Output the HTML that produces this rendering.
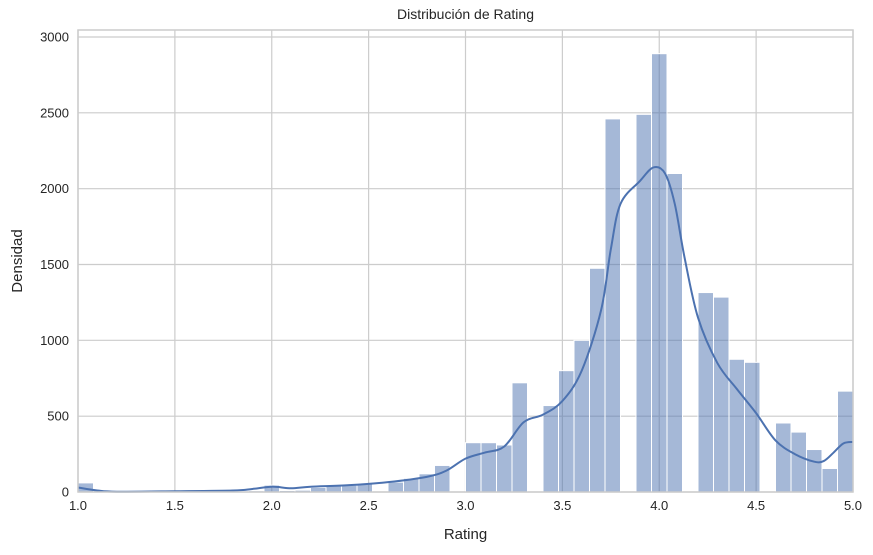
<!DOCTYPE html>
<html><head><meta charset="utf-8"><style>
body{margin:0;background:#fff;}
svg text{font-family:"Liberation Sans",sans-serif;fill:#262626;}
</style></head><body>
<svg id="chart" width="873" height="550"></svg>
<script>
const binStart = 1.0, binWidth = 0.08;
const counts = [60,8,2,2,3,4,5,5,6,6,7,8,45,10,12,30,40,45,55,0,65,90,120,175,0,325,325,310,720,0,570,800,1000,1475,2460,0,2490,2890,2100,0,1315,1285,875,855,0,455,395,280,155,665];
const kdeX = [1.0,1.1,1.2,1.5,1.8,1.9,2.0,2.1,2.2,2.4,2.6,2.8,2.9,3.0,3.1,3.2,3.3,3.4,3.5,3.6,3.7,3.75,3.8,3.9,3.97,4.03,4.08,4.13,4.2,4.3,4.4,4.5,4.6,4.7,4.8,4.85,4.9,4.95,5.0];
const kdeY = [30,10,2,5,10,20,35,25,35,45,65,100,140,220,260,300,460,510,600,800,1200,1600,1900,2050,2140,2100,1900,1550,1150,850,680,520,340,250,200,205,260,320,330];
const xTicks = [1.0,1.5,2.0,2.5,3.0,3.5,4.0,4.5,5.0];
const yTicks = [0,500,1000,1500,2000,2500,3000];
const L=78,R=853,T=30,B=492;
const xs=v=>L+(v-1)/4*(R-L);
const ys=v=>B-v/3000*(B-37);
const svg=document.getElementById('chart');
const NS='http://www.w3.org/2000/svg';
function mk(t,a){const e=document.createElementNS(NS,t);for(const k in a)e.setAttribute(k,a[k]);svg.appendChild(e);return e;}
let e;
e=mk('rect',{x:L,y:T,width:R-L,height:B-T,fill:'#fff'});


xTicks.forEach(t=>{
 e=mk('line',{x1:xs(t),x2:xs(t),y1:T,y2:B,stroke:'#cccccc','stroke-width':1.2});
 
 
 e=mk('text',{x:xs(t),y:B+18,'text-anchor':'middle','font-size':13});
 e.textContent=t.toFixed(1);
 
 
});
yTicks.forEach(t=>{
 e=mk('line',{x1:L,x2:R,y1:ys(t),y2:ys(t),stroke:'#cccccc','stroke-width':1.2});
 
 
 e=mk('text',{x:L-9,y:ys(t)+4.5,'text-anchor':'end','font-size':13});
 e.textContent=t;
 
 
});
counts.forEach((c,i)=>{
 if(c<=0)return;
 const x0=xs(binStart+i*binWidth),x1=xs(binStart+(i+1)*binWidth);
 e=mk('rect',{x:x0,y:ys(c),width:x1-x0,height:B-ys(c),fill:'rgba(76,114,176,0.5)',stroke:'#fff','stroke-width':1});
 
 
});
// smooth KDE path (Catmull-Rom)
const P=kdeX.map((x,i)=>[xs(x),ys(kdeY[i])]);
let d='M'+P[0][0]+','+P[0][1];
for(let i=0;i<P.length-1;i++){
 const p0=P[Math.max(0,i-1)],p1=P[i],p2=P[i+1],p3=P[Math.min(P.length-1,i+2)];
 const c1=[p1[0]+(p2[0]-p0[0])/6,p1[1]+(p2[1]-p0[1])/6];
 const c2=[p2[0]-(p3[0]-p1[0])/6,p2[1]-(p3[1]-p1[1])/6];
 d+=` C${c1[0]},${c1[1]} ${c2[0]},${c2[1]} ${p2[0]},${p2[1]}`;
}
e=mk('path',{d:d,fill:'none',stroke:'#4c72b0','stroke-width':2});


e=mk('rect',{x:L,y:T,width:R-L,height:B-T,fill:'none',stroke:'#cccccc','stroke-width':1.5});


e=mk('text',{x:(L+R)/2,y:19,'text-anchor':'middle','font-size':14});
e.textContent='Distribución de Rating';


e=mk('text',{x:(L+R)/2,y:539,'text-anchor':'middle','font-size':15});
e.textContent='Rating';


e=mk('text',{x:22,y:(T+B)/2,'text-anchor':'middle','font-size':15,transform:`rotate(-90 22 ${(T+B)/2})`});
e.textContent='Densidad';


</script>
</body></html>
